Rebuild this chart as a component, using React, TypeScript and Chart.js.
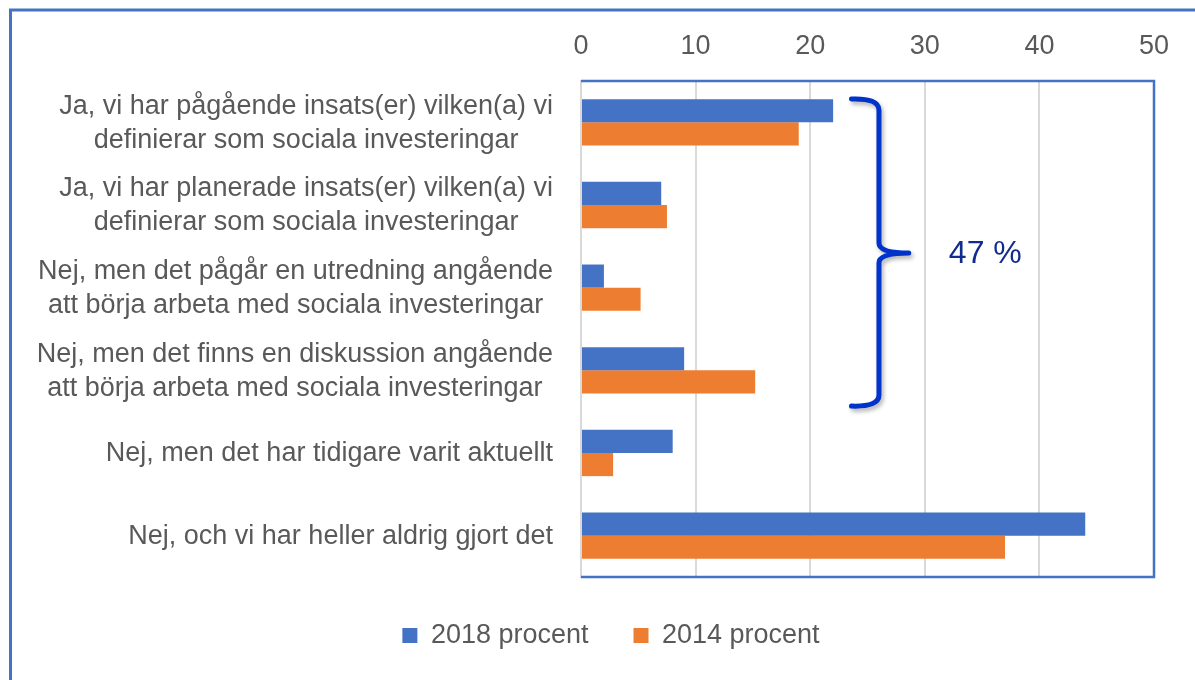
import React, { useEffect, useRef } from 'react';
import { Chart, registerables } from 'chart.js';

Chart.register(...registerables);

// ---- data ----
const categoryLines: string[][] = [
  ['Ja, vi har pågående insats(er) vilken(a) vi', 'definierar som sociala investeringar'],
  ['Ja, vi har planerade insats(er) vilken(a) vi', 'definierar som sociala investeringar'],
  ['Nej, men det pågår en utredning angående', 'att börja arbeta med sociala investeringar'],
  ['Nej, men det finns en diskussion angående', 'att börja arbeta med sociala investeringar'],
  ['Nej, men det har tidigare varit aktuellt'],
  ['Nej, och vi har heller aldrig gjort det'],
];
const seriesNames = ['2018 procent', '2014 procent'];
const values2018 = [22, 7, 2, 9, 8, 44];
const values2014 = [19, 7.5, 5.2, 15.2, 2.8, 37];
const xMin = 0;
const xMax = 50;
const xStep = 10;
const bracketText = '47 %';

const FONT = '"Liberation Sans", Arial, sans-serif';
const GRAY_TEXT = '#595959';
const BLUE = '#4472C4';
const ORANGE = '#ED7D31';

const framePlugin = {
  id: 'frame',
  beforeDraw(chart: any) {
    const { ctx, width, height } = chart;
    ctx.save();
    ctx.fillStyle = '#ffffff';
    ctx.fillRect(0, 0, width, height);
    ctx.strokeStyle = BLUE;
    ctx.lineWidth = 3;
    ctx.beginPath();
    ctx.moveTo(10.5, height);
    ctx.lineTo(10.5, 10);
    ctx.lineTo(width, 10);
    ctx.stroke();
    ctx.restore();
  },
  beforeDatasetsDraw(chart: any) {
    const { ctx, chartArea: a } = chart;
    ctx.save();
    ctx.strokeStyle = BLUE;
    ctx.lineWidth = 2.5;
    ctx.beginPath();
    ctx.moveTo(a.left, a.top);
    ctx.lineTo(a.right, a.top);
    ctx.lineTo(a.right, a.bottom);
    ctx.lineTo(a.left, a.bottom);
    ctx.stroke();
    ctx.restore();
  },
};

const catLabelPlugin = {
  id: 'catLabels',
  afterDraw(chart: any) {
    const { ctx } = chart;
    const y = chart.scales.y;
    const rightEdge = y.right - 28;
    const lineH = 34;
    ctx.save();
    ctx.font = `27px ${FONT}`;
    ctx.fillStyle = GRAY_TEXT;
    ctx.textAlign = 'center';
    ctx.textBaseline = 'middle';
    categoryLines.forEach((lines, i) => {
      const widest = Math.max(...lines.map((l) => ctx.measureText(l).width));
      const cx = rightEdge - widest / 2;
      const cy = y.getPixelForValue(i) + 1;
      lines.forEach((l, j) => {
        ctx.fillText(l, cx, cy + (j - (lines.length - 1) / 2) * lineH);
      });
    });
    ctx.restore();
  },
};

const bracketPlugin = {
  id: 'bracket',
  afterDraw(chart: any) {
    const { ctx } = chart;
    const xs = chart.scales.x;
    const ys = chart.scales.y;
    const x0 = xs.getPixelForValue(23.6);
    const xb = xs.getPixelForValue(26.0);
    const xt = xs.getPixelForValue(28.6);
    const yTop = ys.getPixelForValue(-0.27);
    const yMid = ys.getPixelForValue(1.58);
    const yBot = ys.getPixelForValue(3.42);
    const r = 10;
    ctx.save();
    ctx.strokeStyle = '#0033CC';
    ctx.lineWidth = 5;
    ctx.lineCap = 'round';
    ctx.lineJoin = 'round';
    ctx.shadowColor = 'rgba(0,0,0,0.3)';
    ctx.shadowBlur = 4;
    ctx.shadowOffsetX = 2;
    ctx.shadowOffsetY = 3;
    ctx.beginPath();
    ctx.moveTo(x0, yTop - 1);
    ctx.quadraticCurveTo(xb, yTop - 2, xb, yTop + r);
    ctx.lineTo(xb, yMid - 10);
    ctx.quadraticCurveTo(xb, yMid, xt, yMid);
    ctx.moveTo(xt, yMid);
    ctx.quadraticCurveTo(xb, yMid, xb, yMid + 10);
    ctx.lineTo(xb, yBot - r);
    ctx.quadraticCurveTo(xb, yBot + 2, x0, yBot + 1);
    ctx.stroke();
    ctx.shadowColor = 'transparent';
    ctx.font = `32px ${FONT}`;
    ctx.fillStyle = '#112C8C';
    ctx.textAlign = 'left';
    ctx.textBaseline = 'middle';
    ctx.fillText(bracketText, xs.getPixelForValue(32.1), yMid + 1);
    ctx.restore();
  },
};

export default function App() {
  const ref = useRef<HTMLCanvasElement | null>(null);
  useEffect(() => {
    if (!ref.current) return;
    Chart.defaults.font.family = FONT;
    const chart = new Chart(ref.current, {
      type: 'bar',
      data: {
        labels: categoryLines.map((l) => l.join(' ')),
        datasets: [
          { label: seriesNames[0], data: values2018, backgroundColor: BLUE, borderWidth: 0 },
          { label: seriesNames[1], data: values2014, backgroundColor: ORANGE, borderWidth: 0 },
        ],
      },
      options: {
        indexAxis: 'y',
        responsive: false,
        animation: false,
        devicePixelRatio: 1,
        layout: { padding: { left: 68, right: 41, top: 0, bottom: 21 } },
        datasets: { bar: { categoryPercentage: 0.56, barPercentage: 1 } },
        scales: {
          x: {
            position: 'top',
            min: xMin,
            max: xMax,
            ticks: { stepSize: xStep, color: GRAY_TEXT, font: { size: 27 }, padding: 18 },
            grid: { color: '#D9D9D9', lineWidth: 2, drawTicks: false },
            border: { display: false },
            afterFit: (s: any) => { s.height = 81; },
          },
          y: {
            ticks: { display: false },
            grid: { display: false, drawTicks: false },
            border: { color: '#D9D9D9', width: 2 },
            afterFit: (s: any) => { s.width = 513; },
          },
        },
        plugins: {
          legend: {
            position: 'bottom',
            labels: {
              color: GRAY_TEXT,
              font: { size: 27 },
              boxWidth: 15,
              boxHeight: 15,
              padding: 45,
            },
          },
          tooltip: { enabled: false },
        },
      },
      plugins: [framePlugin, catLabelPlugin, bracketPlugin],
    } as any);
    return () => chart.destroy();
  }, []);
  return (
    <div style={{ position: 'fixed', left: 0, top: 0, width: 1195, height: 680, background: '#fff' }}>
      <canvas ref={ref} width={1195} height={680} style={{ display: 'block' }} />
    </div>
  );
}
